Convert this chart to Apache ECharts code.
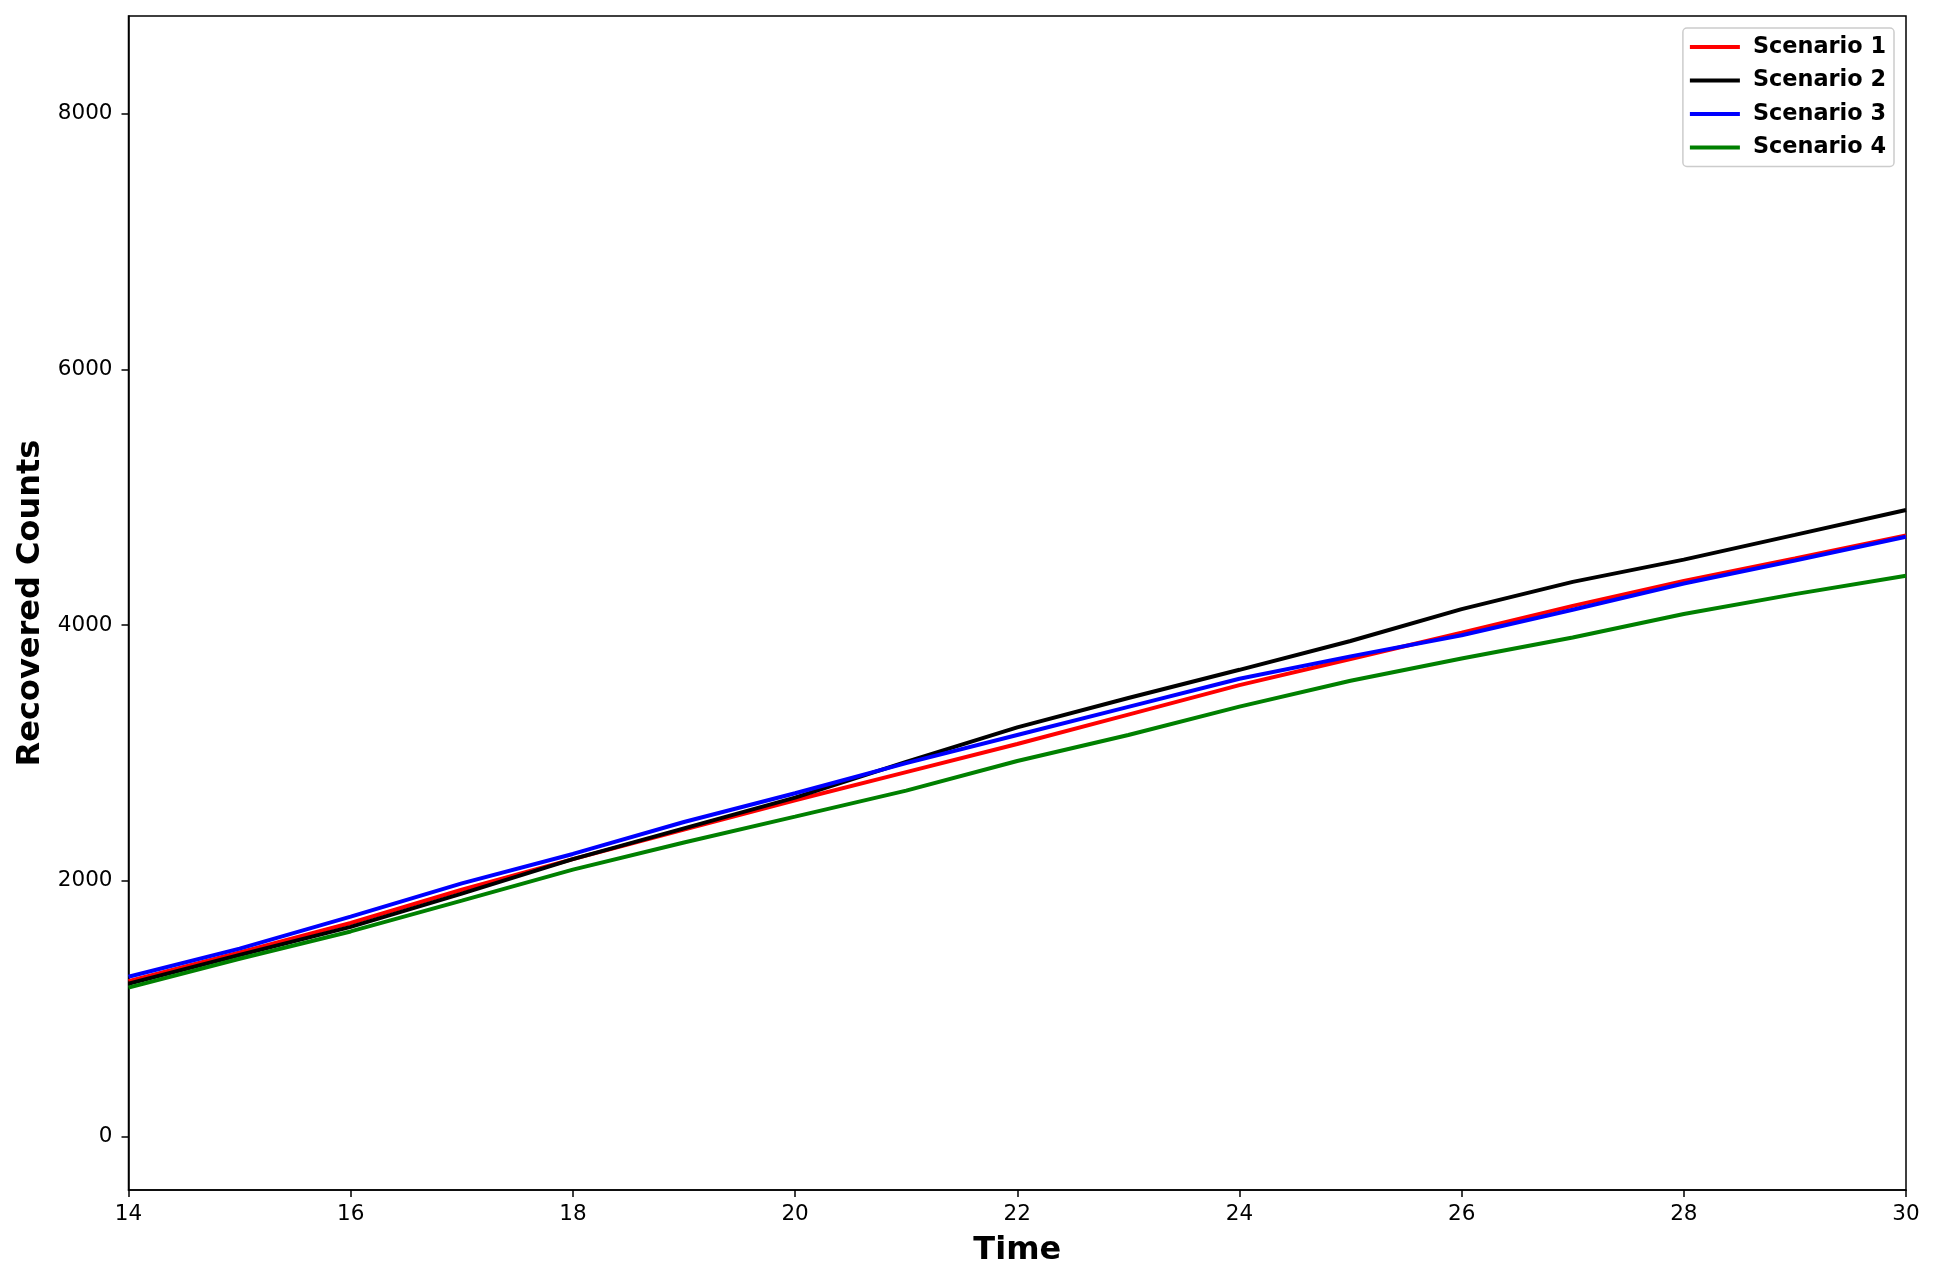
<!DOCTYPE html>
<html>
<head>
<meta charset="utf-8">
<script src="https://cdn.jsdelivr.net/npm/echarts@6/dist/echarts.min.js"></script>
<style>html,body{margin:0;padding:0;background:#fff}#c{width:1937px;height:1284px}</style>
</head>
<body>
<div id="c"></div>
<script>
const times = [14,15,16,17,18,19,20,21,22,23,24,25,26,27,28,29,30];
const scenario1 = [1215,1440,1670,1930,2170,2400,2630,2850,3070,3300,3530,3735,3940,4150,4345,4520,4700];
const scenario2 = [1195,1420,1640,1900,2170,2410,2650,2930,3200,3430,3650,3875,4125,4338,4512,4705,4900];
const scenario3 = [1250,1470,1720,1980,2210,2460,2685,2920,3140,3360,3580,3755,3920,4120,4325,4505,4690];
const scenario4 = [1165,1390,1604,1845,2087,2300,2502,2705,2937,3140,3362,3565,3739,3903,4087,4242,4386];
const seriesNames = ['Scenario 1','Scenario 2','Scenario 3','Scenario 4'];
const seriesColors = ['#ff0000','#000000','#0000ff','#008000'];
const yTicks = [0,2000,4000,6000,8000];
const xTicks = [14,16,18,20,22,24,26,28,30];

const allSeries = [scenario1, scenario2, scenario3, scenario4];
const chart = echarts.init(document.getElementById('c'), null, {renderer:'canvas'});
const font = 'DejaVu Sans';
chart.setOption({
  animation: false,
  backgroundColor: '#ffffff',
  grid: {left:128.5, right:31, top:16, bottom:94, show:true, borderColor:'#000', borderWidth:1.5, backgroundColor:'transparent'},
  legend: {
    orient:'vertical', right:43, top:28,
    data: seriesNames.map(n => ({name:n, icon:'rect'})),
    itemWidth:50, itemHeight:4, itemGap:9.5,
    padding:[7,8,7,7],
    borderColor:'#cccccc', borderWidth:1.5, borderRadius:4, backgroundColor:'rgba(255,255,255,0.8)',
    textStyle:{fontFamily:font, fontWeight:'bold', fontSize:22.4, color:'#000', lineHeight:24, padding:[0,0,0,8]}
  },
  xAxis: {
    type:'value', min:14, max:30,
    name:'Time', nameLocation:'middle', nameGap:45,
    nameTextStyle:{fontFamily:font, fontWeight:'bold', fontSize:32, color:'#000'},
    axisLine:{show:true, onZero:false, lineStyle:{color:'#000', width:1.5}},
    axisTick:{show:true, inside:false, length:7, lineStyle:{color:'#000', width:1.5}, customValues:xTicks},
    axisLabel:{fontFamily:font, fontSize:21.5, color:'#000', margin:13, customValues:xTicks, formatter: v => String(v)},
    splitLine:{show:false}
  },
  yAxis: {
    type:'value', min:-418, max:8763,
    name:'Recovered Counts', nameLocation:'middle', nameGap:79, nameRotate:90,
    nameTextStyle:{fontFamily:font, fontWeight:'bold', fontSize:32, color:'#000'},
    axisLine:{show:true, onZero:false, lineStyle:{color:'#000', width:1.5}},
    axisTick:{show:true, inside:false, length:7, lineStyle:{color:'#000', width:1.5}, customValues:yTicks},
    axisLabel:{fontFamily:font, fontSize:21.5, color:'#000', margin:16, customValues:yTicks, formatter: v => String(v)},
    splitLine:{show:false}
  },
  series: allSeries.map((vals, i) => ({
    name: seriesNames[i], type:'line', showSymbol:false, symbol:'none',
    data: times.map((t, j) => [t, vals[j]]),
    lineStyle:{color:seriesColors[i], width:4},
    itemStyle:{color:seriesColors[i]},
    z: 2 + i
  }))
});
</script>
</body>
</html>
